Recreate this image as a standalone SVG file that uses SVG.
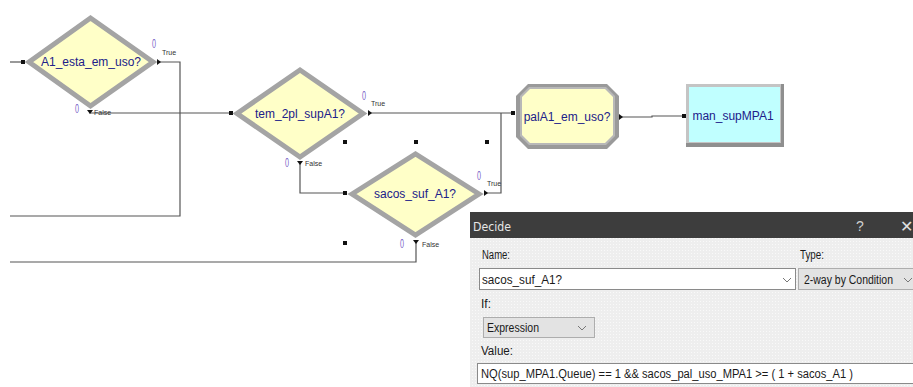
<svg xmlns="http://www.w3.org/2000/svg" width="913" height="387" viewBox="0 0 913 387">
<style>
.lbl{font-family:"Liberation Sans",Arial,sans-serif;font-size:12px;fill:#20208a;text-anchor:middle}
.cnt{font-family:"Liberation Sans",Arial,sans-serif;font-size:12px;fill:#7a64c8}
.tf{font-family:"Liberation Sans",Arial,sans-serif;font-size:7px;fill:#333}
.con{fill:none;stroke:#555;stroke-width:1.2}
.dia{fill:#ffffc8;stroke:#a4a4a4;stroke-width:5;stroke-linejoin:miter}
.h{fill:#111}
.dt{font-family:"Liberation Sans",Arial,sans-serif;font-size:12px;fill:#1a1a1a}
.fld{fill:#fff;stroke:#8a8a8a;stroke-width:1}
.dd{fill:#e3e3e3;stroke:#adadad;stroke-width:1}
.chev{fill:none;stroke:#777;stroke-width:1}
</style>
<defs>
<pattern id="dots" width="3" height="3" patternUnits="userSpaceOnUse">
<rect width="3" height="3" fill="#eeeeee"/>
<rect x="1" y="1" width="1" height="1" fill="#f9f9f9"/>
</pattern>
</defs>
<rect width="913" height="387" fill="#fff"/>

<g id="connectors">
<path class="con" d="M10,62 H25"/>
<path class="con" d="M157,62 H180 V216 H10"/>
<path class="con" d="M90,111 V113 H232"/>
<path class="con" d="M368,113 H513"/>
<path class="con" d="M300,161 V193 H347"/>
<path class="con" d="M484,193 H501 V113"/>
<path class="con" d="M416,240 V262 H10"/>
<path class="con" d="M619,117 H652 V116 H684"/>
<rect class="h" x="21" y="60" width="4" height="4"/>
<polygon class="h" points="157,59 161,62 157,65"/>
<polygon class="h" points="87,110 93,110 90,114"/>
<rect class="h" x="229" y="111" width="4" height="4"/>
<polygon class="h" points="368,110 372,113 368,116"/>
<polygon class="h" points="297,161 303,161 300,165"/>
<rect class="h" x="343" y="191" width="4" height="4"/>
<polygon class="h" points="484,190 488,193 484,196"/>
<polygon class="h" points="413,240 419,240 416,244"/>
<rect class="h" x="511" y="111" width="4" height="4"/>
<polygon class="h" points="619,114 623,117 619,120"/>
<rect class="h" x="682" y="114" width="4" height="4"/>
<rect class="h" x="343" y="140" width="4" height="4"/>
<rect class="h" x="414" y="140" width="4" height="4"/>
<rect class="h" x="485" y="140" width="4" height="4"/>
<rect class="h" x="343" y="241" width="4" height="4"/>
</g>

<g id="A1_esta_em_uso">
<polygon class="dia" points="29,62 90.5,18 153,62 90.5,106"/>
<text class="lbl" x="91" y="66">A1_esta_em_uso?</text>
<text class="cnt" x="152" y="48" textLength="4" lengthAdjust="spacingAndGlyphs">0</text>
<text class="tf" x="162" y="55">True</text>
<text class="cnt" x="75" y="113" textLength="4" lengthAdjust="spacingAndGlyphs">0</text>
<text class="tf" x="94" y="115">False</text>
</g>

<g id="tem_2pl_supA1">
<polygon class="dia" points="237,113.5 300,70 363,113.5 300,157"/>
<text class="lbl" x="300" y="118">tem_2pl_supA1?</text>
<text class="cnt" x="362" y="100" textLength="4" lengthAdjust="spacingAndGlyphs">0</text>
<text class="tf" x="371" y="106">True</text>
<text class="cnt" x="285" y="167" textLength="4" lengthAdjust="spacingAndGlyphs">0</text>
<text class="tf" x="305" y="166">False</text>
</g>

<g id="sacos_suf_A1">
<polygon class="dia" points="352,194 415.5,154 479,194 415.5,235"/>
<text class="lbl" x="415" y="198">sacos_suf_A1?</text>
<text class="cnt" x="477" y="180" textLength="4" lengthAdjust="spacingAndGlyphs">0</text>
<text class="tf" x="487" y="186">True</text>
<text class="cnt" x="400" y="248" textLength="4" lengthAdjust="spacingAndGlyphs">0</text>
<text class="tf" x="422" y="247">False</text>
</g>

<g id="palA1_em_uso">
<polygon points="528,84 607,84 619,96 619,137 607,149 528,149 516,137 516,96" fill="#9a9a9a"/>
<polygon points="529,87 606,87 615,96 615,136 606,145 529,145 520,136 520,96" fill="#b8b8b8"/>
<polygon points="530,89 605,89 613,97 613,135 605,143 530,143 522,135 522,97" fill="#ffffc8"/>
<text class="lbl" x="567" y="121">palA1_em_uso?</text>
</g>

<g id="man_supMPA1">
<rect x="686" y="84" width="98" height="63" fill="#8f8f8f"/>
<rect x="686" y="84" width="95" height="59" fill="#c4c4c4"/>
<rect x="689" y="87" width="91" height="55" fill="#c0ffff"/>
<text class="lbl" x="733" y="120">man_supMPA1</text>
</g>

<g id="dialog">
<rect x="470" y="212" width="443" height="26" fill="#3d3d3d"/>
<text x="473" y="231" font-family="'DejaVu Sans',sans-serif" font-size="13" fill="#e6e6e6" textLength="38" lengthAdjust="spacingAndGlyphs">Decide</text>
<text x="856" y="231" font-family="'Liberation Sans',sans-serif" font-size="14" fill="#d0d0d0">?</text>
<text x="900" y="232" font-family="'DejaVu Sans',sans-serif" font-size="16" fill="#e0e0e0">✕</text>
<rect x="470" y="238" width="443" height="149" fill="url(#dots)"/>
<text class="dt" x="482" y="259" textLength="28" lengthAdjust="spacingAndGlyphs">Name:</text>
<text class="dt" x="800" y="259" textLength="24" lengthAdjust="spacingAndGlyphs">Type:</text>
<rect class="fld" x="479.5" y="268.5" width="316" height="21"/>
<text class="dt" x="482" y="284" textLength="80" lengthAdjust="spacingAndGlyphs">sacos_suf_A1?</text>
<polyline class="chev" points="783,278 787,282 791,278"/>
<rect class="dd" x="798.5" y="268.5" width="120" height="21"/>
<text class="dt" x="804" y="284" textLength="89" lengthAdjust="spacingAndGlyphs">2-way by Condition</text>
<polyline class="chev" points="904,278 908,282 912,278"/>
<text class="dt" x="481" y="308">If:</text>
<rect class="dd" x="483.5" y="317.5" width="111" height="20"/>
<text class="dt" x="487" y="332" textLength="52" lengthAdjust="spacingAndGlyphs">Expression</text>
<polyline class="chev" points="578,326 582,330 586,326"/>
<text class="dt" x="481" y="355" textLength="32" lengthAdjust="spacingAndGlyphs">Value:</text>
<rect class="fld" x="477.5" y="363.5" width="440" height="20"/>
<text class="dt" x="481" y="378" textLength="372" lengthAdjust="spacingAndGlyphs">NQ(sup_MPA1.Queue) == 1 &amp;&amp; sacos_pal_uso_MPA1 &gt;= ( 1 + sacos_A1 )</text>
</g>
</svg>
